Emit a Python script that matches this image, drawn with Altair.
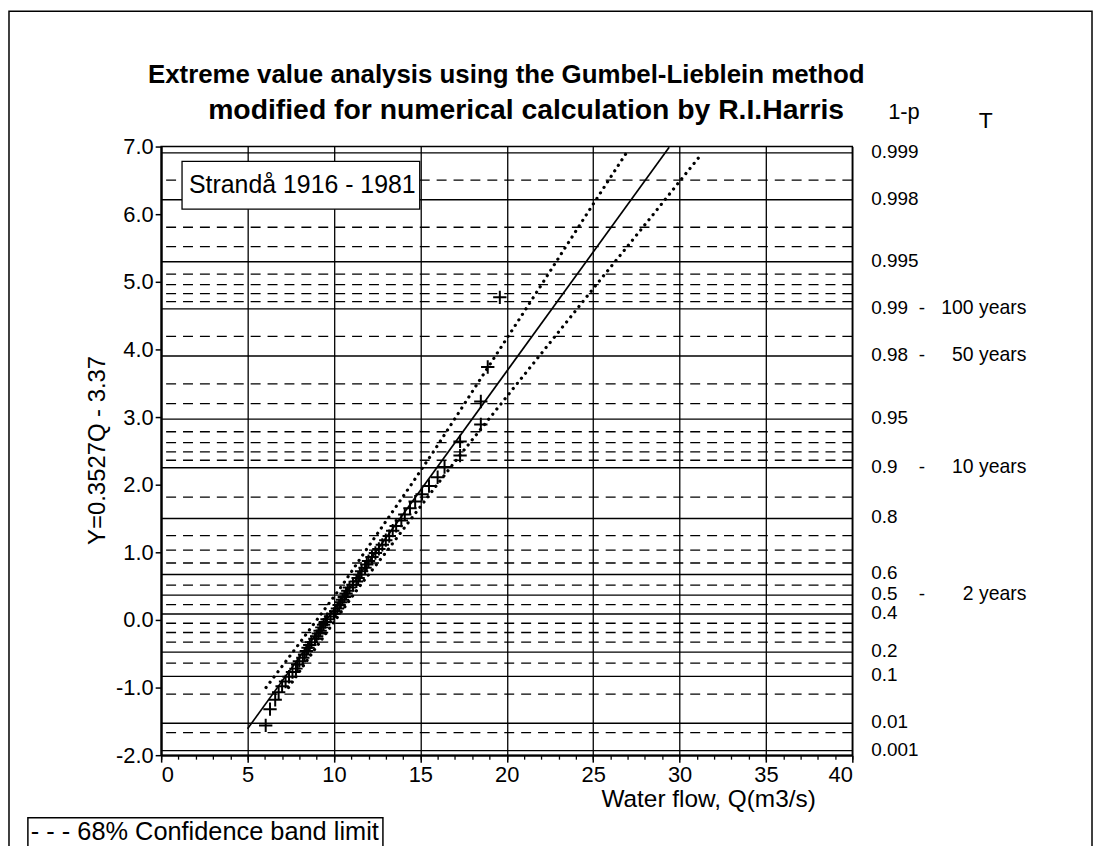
import altair as alt
import pandas as pd

# ---------------- data ----------------
# probability levels (non-exceedance 1-p) and their Gumbel reduced variate Y
solid_prob = ["0.999", "0.998", "0.995", "0.99", "0.98", "0.95", "0.9", "0.8",
              "0.6", "0.5", "0.4", "0.2", "0.1", "0.01", "0.001"]
solid_y = [6.907, 6.213, 5.296, 4.600, 3.902, 2.970, 2.250, 1.500,
           0.672, 0.367, 0.087, -0.476, -0.834, -1.527, -1.933]
return_period = ["", "", "", "100 years", "50 years", "", "10 years", "",
                 "", "2 years", "", "", "", "", ""]
dashed_y = [6.504, 5.807, 5.519, 5.113, 4.958, 4.824, 4.706, 4.192, 3.491, 3.199,
            2.783, 2.623, 2.484, 2.361, 1.817, 1.246, 1.031, 0.842, 0.514, 0.225,
            -0.049, -0.186, -0.327, -0.640, -1.097, -1.667]

# observed annual maxima (Q, plotting position Y)
obs_q = [6.05, 6.3, 6.6, 6.8, 7.0, 7.2, 7.4, 7.6, 7.8, 7.9, 8.0, 8.2, 8.3, 8.4,
         8.5, 8.6, 8.7, 8.9, 9.0, 9.1, 9.2, 9.3, 9.4, 9.5, 9.6, 9.8, 10.0, 10.1,
         10.2, 10.3, 10.4, 10.5, 10.6, 10.7, 10.8, 10.9, 11.1, 11.3, 11.4, 11.5,
         11.6, 11.8, 11.9, 12.0, 12.2, 12.4, 12.6, 12.8, 13.0, 13.2, 13.4, 13.6,
         13.9, 14.1, 14.4, 14.7, 15.1, 15.5, 16.0, 16.4, 17.3, 17.3, 18.5, 18.5,
         18.9, 19.6]
obs_y = [-1.56, -1.32, -1.18, -1.07, -0.98, -0.91, -0.84, -0.77, -0.72, -0.66,
         -0.61, -0.56, -0.51, -0.46, -0.41, -0.37, -0.33, -0.28, -0.24, -0.20,
         -0.16, -0.11, -0.07, -0.03, 0.01, 0.05, 0.09, 0.13, 0.17, 0.22, 0.26,
         0.30, 0.34, 0.39, 0.43, 0.48, 0.52, 0.57, 0.62, 0.67, 0.72, 0.77, 0.82,
         0.87, 0.93, 0.99, 1.05, 1.11, 1.18, 1.24, 1.32, 1.39, 1.47, 1.56, 1.65,
         1.75, 1.86, 1.98, 2.11, 2.26, 2.43, 2.64, 2.89, 3.23, 3.74, 4.77]

# fitted line Y = 0.3527Q - 3.37
fit_q = [5.0, 29.4]
fit_y = [-1.61, 6.99]

# 68% confidence band limits
band_y = [-1.0, -0.5, 0.0, 0.5, 1.0, 1.5, 2.0, 2.5, 3.0, 3.5, 4.0, 4.5,
          5.0, 5.5, 6.0, 6.5, 6.9]
band_upper_q = [6.07, 7.55, 9.01, 10.45, 11.77, 13.12, 14.47, 15.79, 17.06,
                18.32, 19.59, 20.86, 22.12, 23.37, 24.63, 25.89, 26.91]
band_lower_q = [7.37, 8.71, 10.09, 11.49, 13.01, 14.48, 15.97, 17.49, 19.06,
                20.62, 22.19, 23.76, 25.32, 26.91, 28.49, 30.05, 31.31]

x_major = [0, 5, 10, 15, 20, 25, 30, 35, 40]
x_minor = list(range(0, 41))
y_ticks = [-2, -1, 0, 1, 2, 3, 4, 5, 6, 7]

title1 = "Extreme value analysis using the Gumbel-Lieblein method"
title2 = "modified for numerical calculation by R.I.Harris"
station = "Strandå 1916 - 1981"
legend_text = "- - - 68% Confidence band limit"

# ---------------- layout ----------------
W, H = 695, 612
FONT = "Liberation Sans"

xs = alt.Scale(domain=[0, 40], nice=False, zero=False)
ys = alt.Scale(domain=[-2, 7], nice=False, zero=False)

solid_df = pd.DataFrame({"Y": solid_y, "prob": solid_prob, "years": return_period})
dashed_df = pd.DataFrame({"Y": dashed_y})
obs_df = pd.DataFrame({"Q": obs_q, "Y": obs_y})
fit_df = pd.DataFrame({"Q": fit_q, "Y": fit_y})
band_df = pd.concat([
    pd.DataFrame({"Q": band_upper_q, "Y": band_y, "band": "upper"}),
    pd.DataFrame({"Q": band_lower_q, "Y": band_y, "band": "lower"}),
])
one = pd.DataFrame({"k": [0]})

y_label_expr = "datum.value < 0 ? '-' + format(-datum.value, '.1f') : format(datum.value, '.1f')"

dashed = alt.Chart(dashed_df).mark_rule(color="black", strokeWidth=1.3, strokeDash=[10, 7]).encode(
    y=alt.Y("Y:Q", scale=ys, title="Y=0.3527Q - 3.37",
            axis=alt.Axis(values=y_ticks, labelExpr=y_label_expr, grid=False, tickSize=6,
                          tickColor="black", tickWidth=1.5, domainColor="black",
                          domainWidth=2, labelFontSize=22, labelPadding=2,
                          labelColor="black", labelFont=FONT,
                          titleFont=FONT, titleFontSize=24, titleFontWeight="normal",
                          titleColor="black", titleAngle=270, titleX=-64, titleY=305,
                          titleAlign="center", titleBaseline="middle"))
)
solid = alt.Chart(solid_df).mark_rule(color="black", strokeWidth=1.4).encode(y=alt.Y("Y:Q", scale=ys))

# box for station name
box = alt.Chart(one).mark_rect(fill="white", stroke="black", strokeWidth=1.3).encode(
    x=alt.value(21), x2=alt.value(260), y=alt.value(15), y2=alt.value(63))
box_text = alt.Chart(pd.DataFrame({"t": [station]})).mark_text(
    align="left", baseline="alphabetic", fontSize=25, font=FONT, color="black").encode(
    text="t:N", x=alt.value(28), y=alt.value(47))

bands = alt.Chart(band_df).mark_line(color="black", strokeWidth=3.2, strokeDash=[0.1, 6.5],
                                     strokeCap="round").encode(
    x=alt.X("Q:Q", scale=xs, axis=None),
    y=alt.Y("Y:Q", scale=ys),
    detail="band:N",
    order="Y:Q",
)

fit = alt.Chart(fit_df).mark_line(color="black", strokeWidth=1.7).encode(
    x=alt.X("Q:Q", scale=xs, title="Water flow, Q(m3/s)",
            axis=alt.Axis(values=x_major, grid=True, gridColor="black", gridWidth=1.3,
                          gridOpacity=1, tickSize=7, tickColor="black", tickWidth=1.5,
                          domainColor="black", domainWidth=2, labelFontSize=22,
                          labelColor="black", labelFont=FONT, labelPadding=2,
                          titleFont=FONT, titleFontSize=24.5, titleFontWeight="normal",
                          titleColor="black", titleX=550, titleY=45,
                          titleAlign="center", titleBaseline="middle", orient="bottom")),
    y=alt.Y("Y:Q", scale=ys),
)

points = alt.Chart(obs_df).mark_point(shape="M-1,0L1,0M0,-1L0,1", filled=False, size=180,
                                      stroke="black", strokeWidth=2, opacity=1).encode(
    x=alt.X("Q:Q", scale=xs,
            axis=alt.Axis(values=x_minor, labels=False, grid=False, domain=False,
                          tickSize=4, tickColor="black", tickWidth=1.3, title=None,
                          orient="bottom")),
    y=alt.Y("Y:Q", scale=ys),
)

# right-hand probability labels
prob_labels = alt.Chart(solid_df).mark_text(align="left", baseline="middle", fontSize=19,
                                            font=FONT, color="black", dy=-1).encode(
    y=alt.Y("Y:Q", scale=ys), x=alt.value(714), text="prob:N")
years_df = solid_df[solid_df["years"] != ""]
dash_labels = alt.Chart(years_df).mark_text(align="center", baseline="middle", fontSize=19,
                                            font=FONT, color="black", dy=-1).encode(
    y=alt.Y("Y:Q", scale=ys), x=alt.value(765), text=alt.value("-"))
year_labels = alt.Chart(years_df).mark_text(align="right", baseline="middle", fontSize=19.5,
                                            font=FONT, color="black", dy=-1).encode(
    y=alt.Y("Y:Q", scale=ys), x=alt.value(870), text="years:N")

def label(txt, x, y, size, weight="normal", align="center", baseline="alphabetic"):
    return alt.Chart(pd.DataFrame({"t": [txt]})).mark_text(
        align=align, baseline=baseline, fontSize=size, fontWeight=weight,
        font=FONT, color="black").encode(text="t:N", x=alt.value(x), y=alt.value(y))

t1 = label(title1, 347, -64, 26, "bold")
t2 = label(title2, 367, -28, 28.5, "bold")
t_p = label("1-p", 731, -28, 22, align="left")
t_T = label("T", 822, -19, 23, align="left")

legend_box = alt.Chart(one).mark_rect(fill="white", stroke="black", strokeWidth=1.5).encode(
    x=alt.value(-134), x2=alt.value(223), y=alt.value(675), y2=alt.value(740))
legend_txt = label(legend_text, -131, 697, 25.5, align="left")

frame = alt.Chart(one).mark_rect(fill="white", fillOpacity=0, stroke="black", strokeWidth=1.5).encode(
    x=alt.value(-153), x2=alt.value(936), y=alt.value(-136), y2=alt.value(760))

chart = alt.layer(
    dashed, solid, box, box_text, bands, fit, points,
    prob_labels, dash_labels, year_labels, t1, t2, t_p, t_T,
    legend_box, legend_txt, frame,
).resolve_axis(x="independent").properties(
    width=W, height=H,
    autosize=alt.AutoSizeParams(type="none"),
    padding={"left": 154, "top": 137, "right": 242, "bottom": 89},
    background="white",
).configure_view(stroke="black", strokeWidth=1.5)

chart.save("out.html", embed_options={"renderer": "svg", "actions": False})
